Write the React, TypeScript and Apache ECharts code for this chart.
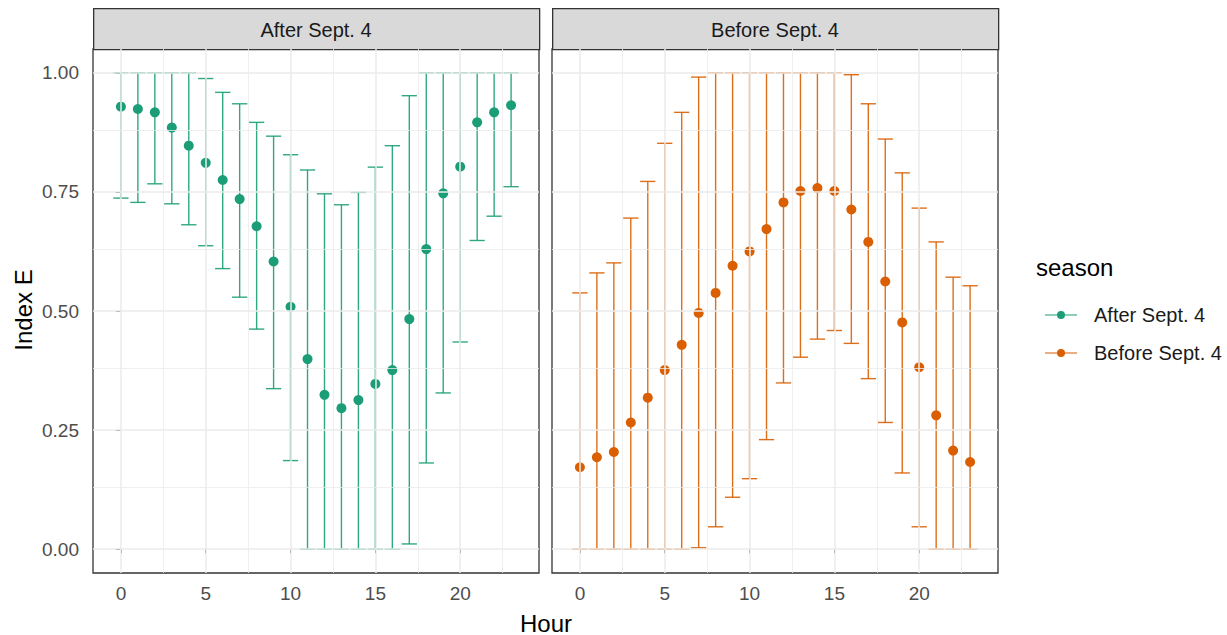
import React, { useEffect, useRef } from "react";
import * as echarts from "echarts";

const HOURS = [0,1,2,3,4,5,6,7,8,9,10,11,12,13,14,15,16,17,18,19,20,21,22,23];
const PANELS = ["After Sept. 4", "Before Sept. 4"];
const COLORS = ["#1B9E77", "#D95F02"];

const AFTER_MEAN = [0.929,0.924,0.917,0.885,0.847,0.811,0.775,0.735,0.678,0.604,0.509,0.399,0.324,0.296,0.313,0.347,0.376,0.483,0.630,0.747,0.803,0.896,0.917,0.932];
const AFTER_LOW  = [0.737,0.728,0.767,0.725,0.681,0.637,0.589,0.529,0.462,0.337,0.186,0,0,0,0,0,0,0.011,0.181,0.328,0.435,0.648,0.699,0.761];
const AFTER_HIGH = [1,1,1,1,1,0.988,0.959,0.935,0.896,0.867,0.828,0.796,0.746,0.723,0.749,0.802,0.847,0.952,1,1,1,1,1,1];

const BEFORE_MEAN = [0.172,0.193,0.204,0.266,0.318,0.376,0.429,0.496,0.538,0.595,0.625,0.672,0.728,0.752,0.758,0.752,0.713,0.645,0.562,0.476,0.382,0.281,0.207,0.183];
const BEFORE_LOW  = [0,0,0,0,0,0,0,0.003,0.047,0.109,0.148,0.230,0.349,0.403,0.441,0.459,0.432,0.358,0.266,0.160,0.047,0,0,0];
const BEFORE_HIGH = [0.538,0.580,0.601,0.695,0.772,0.852,0.917,0.991,1,1,1,1,1,1,1,1,0.996,0.935,0.861,0.790,0.716,0.645,0.571,0.553];

const X_TICKS = [0, 5, 10, 15, 20];
const X_MINOR = [2.5, 7.5, 12.5, 17.5, 22.5];
const Y_TICKS = [0, 0.25, 0.5, 0.75, 1];
const Y_TICK_LABELS = ["0.00", "0.25", "0.50", "0.75", "1.00"];
const Y_MINOR = [0.125, 0.375, 0.625, 0.875];

const X_MIN = -1.645, X_MAX = 24.645;
const Y_MIN = -0.05, Y_MAX = 1.05;
const FONT = "'Liberation Sans', Arial, sans-serif";

const SERIES_DATA = [
  { mean: AFTER_MEAN, low: AFTER_LOW, high: AFTER_HIGH },
  { mean: BEFORE_MEAN, low: BEFORE_LOW, high: BEFORE_HIGH },
];

const GRID_LEFTS = [93, 552];
const GRID_W = 446;
const GRID_TOP = 49;
const GRID_H = 524;

export default function App() {
  const ref = useRef<HTMLDivElement>(null);
  useEffect(() => {
    if (!ref.current) return;
    const chart = echarts.init(ref.current, null, { renderer: "svg" });

    const grids = GRID_LEFTS.map((l) => ({
      left: l, top: GRID_TOP, width: GRID_W, height: GRID_H,
      show: true, borderColor: "#333333", borderWidth: 1.3, backgroundColor: "#ffffff",
    }));

    const xAxes = GRID_LEFTS.map((_, i) => ({
      gridIndex: i, type: "value", min: X_MIN, max: X_MAX,
      axisLine: { show: false }, splitLine: { show: false },
      axisTick: { show: true, length: 4, lineStyle: { color: "#333333" }, customValues: X_TICKS },
      axisLabel: { customValues: X_TICKS, color: "#4D4D4D", fontSize: 19, margin: 11, fontFamily: FONT },
    }));

    const yAxes = GRID_LEFTS.map((_, i) => ({
      gridIndex: i, type: "value", min: Y_MIN, max: Y_MAX,
      axisLine: { show: false }, splitLine: { show: false },
      axisTick: { show: i === 0, length: 5, lineStyle: { color: "#333333" }, customValues: Y_TICKS },
      axisLabel: {
        show: i === 0, customValues: Y_TICKS, color: "#4D4D4D", fontSize: 19, margin: 14, fontFamily: FONT,
        formatter: (v: number) => Y_TICK_LABELS[Y_TICKS.indexOf(v)] ?? v.toFixed(2),
      },
    }));

    const series: any[] = [];
    PANELS.forEach((name, i) => {
      const d = SERIES_DATA[i];
      const color = COLORS[i];
      series.push({
        type: "scatter", xAxisIndex: i, yAxisIndex: i, z: 0, silent: true,
        symbolSize: 0, data: [],
        markLine: {
          silent: true, symbol: "none", animation: false, label: { show: false },
          data: [
            ...X_MINOR.map((v) => ({ xAxis: v, lineStyle: { color: "#EBEBEB", width: 0.8, type: "solid" } })),
            ...Y_MINOR.map((v) => ({ yAxis: v, lineStyle: { color: "#EBEBEB", width: 0.8, type: "solid" } })),
            ...X_TICKS.map((v) => ({ xAxis: v, lineStyle: { color: "#EBEBEB", width: 1.5, type: "solid" } })),
            ...Y_TICKS.map((v) => ({ yAxis: v, lineStyle: { color: "#EBEBEB", width: 1.5, type: "solid" } })),
          ],
        },
      });
      series.push({
        type: "custom", name, xAxisIndex: i, yAxisIndex: i, z: 2,
        itemStyle: { color },
        data: HOURS.map((h, k) => [h, d.low[k], d.high[k]]),
        encode: { x: 0, y: [1, 2] },
        renderItem: (params: any, api: any) => {
          const x = api.value(0), lo = api.value(1), hi = api.value(2);
          const pLo = api.coord([x, lo]);
          const pHi = api.coord([x, hi]);
          const hw = api.size([0.45, 0])[0];
          const style = { stroke: color, lineWidth: 1.4, fill: "none", opacity: 0.9 };
          return {
            type: "group",
            children: [
              { type: "line", shape: { x1: pLo[0], y1: pHi[1], x2: pLo[0], y2: pLo[1] }, style },
              { type: "line", shape: { x1: pLo[0] - hw, y1: pHi[1], x2: pLo[0] + hw, y2: pHi[1] }, style },
              { type: "line", shape: { x1: pLo[0] - hw, y1: pLo[1], x2: pLo[0] + hw, y2: pLo[1] }, style },
            ],
          };
        },
      });
      series.push({
        type: "scatter", name, xAxisIndex: i, yAxisIndex: i, z: 3,
        symbol: "circle", symbolSize: 10,
        itemStyle: { color, opacity: 1 },
        data: HOURS.map((h, k) => [h, d.mean[k]]),
      });
    });

    const graphic: any[] = [];
    PANELS.forEach((name, i) => {
      graphic.push({
        type: "rect", left: GRID_LEFTS[i], top: 8,
        shape: { width: GRID_W, height: 41 },
        style: { fill: "#D9D9D9", stroke: "#333333", lineWidth: 1.3 },
      });
      graphic.push({
        type: "text", x: GRID_LEFTS[i] + GRID_W / 2, y: 30,
        style: { text: name, fill: "#1A1A1A", font: `20px ${FONT}`, align: "center", verticalAlign: "middle" },
      });
    });
    graphic.push({
      type: "text", x: 546, y: 623,
      style: { text: "Hour", fill: "#000000", font: `24px ${FONT}`, align: "center", verticalAlign: "middle" },
    });
    graphic.push({
      type: "text", x: 23, y: 310, rotation: Math.PI / 2,
      style: { text: "Index E", fill: "#000000", font: `24px ${FONT}`, align: "center", verticalAlign: "middle" },
    });
    graphic.push({
      type: "text", x: 1036, y: 267,
      style: { text: "season", fill: "#000000", font: `24px ${FONT}`, align: "left", verticalAlign: "middle" },
    });

    chart.setOption({
      animation: false,
      backgroundColor: "#ffffff",
      grid: grids,
      xAxis: xAxes,
      yAxis: yAxes,
      legend: {
        data: PANELS,
        orient: "vertical",
        left: 1040, top: 300,
        itemWidth: 32, itemHeight: 12, itemGap: 18,
        icon: "path://M0,5.4H32V6.6H0Z M12,6a4,4 0 1,1 8,0a4,4 0 1,1 -8,0Z",
        textStyle: { color: "#1A1A1A", fontSize: 20, fontFamily: FONT, padding: [0, 0, 0, 12] },
        selectedMode: false,
      },
      graphic,
      series,
    });
    return () => chart.dispose();
  }, []);
  return (
    <div
      ref={ref}
      style={{ position: "absolute", left: 0, top: 0, width: 1227, height: 635, background: "#fff" }}
    />
  );
}
